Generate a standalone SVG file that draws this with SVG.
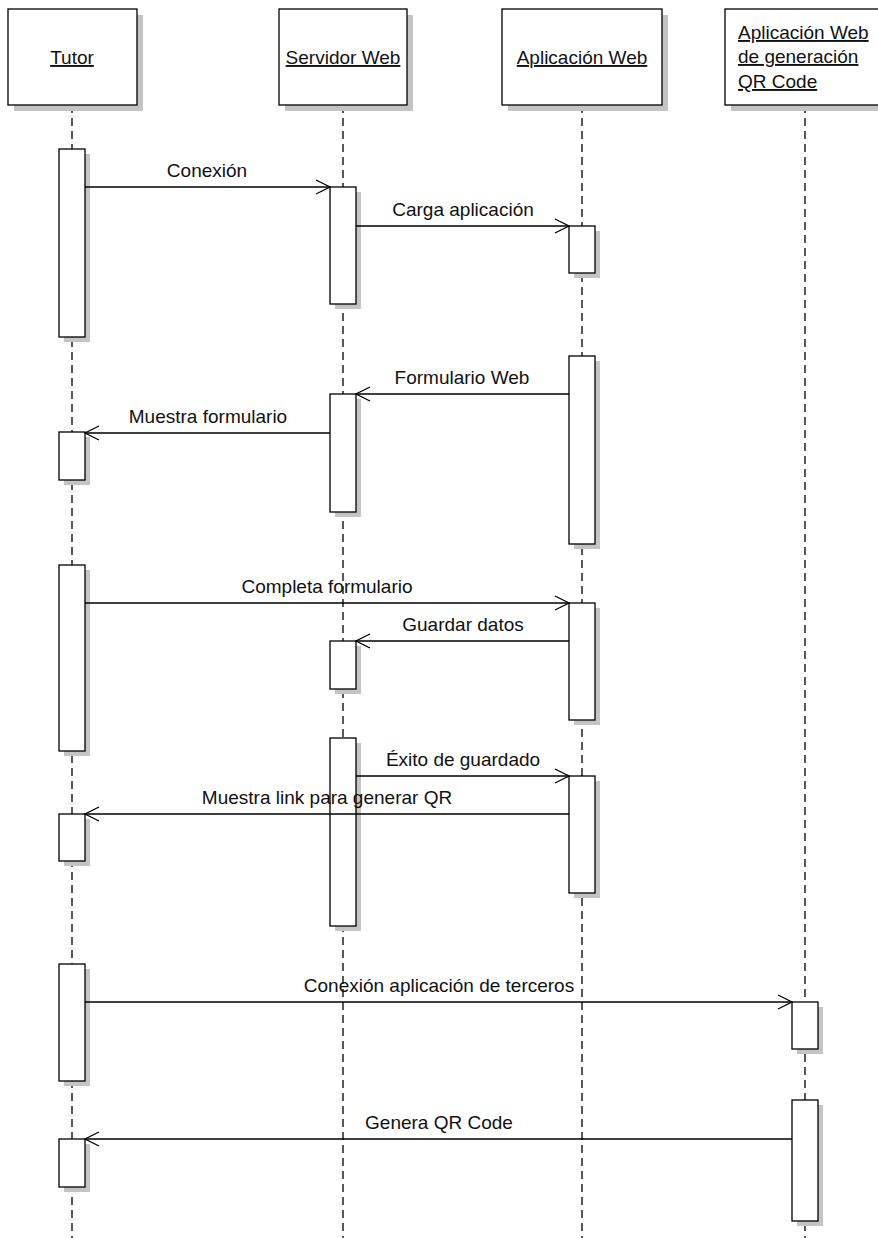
<svg xmlns="http://www.w3.org/2000/svg" width="878" height="1238" viewBox="0 0 878 1238">
  <style>
    .head { fill: #ffffff; stroke: #000000; stroke-width: 1.3; }
    .shadow { fill: #c4c4c4; stroke: none; }
    .act { fill: #ffffff; stroke: #000000; stroke-width: 1.3; }
    .life { stroke: #000000; stroke-width: 1.3; stroke-dasharray: 8 5; fill: none; }
    .msg { stroke: #000000; stroke-width: 1.3; fill: none; marker-end: url(#open); }
    text { font-family: "Liberation Sans", Arial, sans-serif; font-size: 19px; fill: #111111; }
    .title { text-decoration: underline; }
    .lbl { text-anchor: middle; }
  </style>
  <defs>
    <marker id="open" markerUnits="userSpaceOnUse" markerWidth="20" markerHeight="20" viewBox="-16 -10 20 20" refX="0" refY="0" orient="auto">
      <path d="M-14,-7 L0,0 L-14,7" fill="none" stroke="#000000" stroke-width="1.3"/>
    </marker>
  </defs>
  <rect width="878" height="1238" fill="#ffffff"/>

  <!-- lifelines -->
  <g id="lifelines">
    <line class="life" x1="72" y1="105" x2="72" y2="1238"/>
    <line class="life" x1="343" y1="105" x2="343" y2="1238"/>
    <line class="life" x1="582" y1="105" x2="582" y2="1238"/>
    <line class="life" x1="805" y1="105" x2="805" y2="1238"/>
  </g>

  <!-- participants -->
  <g id="tutor">
    <rect class="shadow" x="14" y="15" width="129" height="96"/>
    <rect class="head" x="8" y="9" width="129" height="96"/>
    <text class="title lbl" x="72" y="64">Tutor</text>
  </g>
  <g id="servidor">
    <rect class="shadow" x="285" y="15" width="128" height="96"/>
    <rect class="head" x="279" y="9" width="128" height="96"/>
    <text class="title lbl" x="343" y="64">Servidor Web</text>
  </g>
  <g id="aplicacion">
    <rect class="shadow" x="508" y="15" width="160" height="96"/>
    <rect class="head" x="502" y="9" width="160" height="96"/>
    <text class="title lbl" x="582" y="64">Aplicación Web</text>
  </g>
  <g id="qr-app">
    <rect class="shadow" x="731" y="15" width="160" height="96"/>
    <rect class="head" x="725" y="9" width="160" height="96"/>
    <text class="title" x="738" y="39">Aplicación Web</text>
    <text class="title" x="738" y="63">de generación</text>
    <text class="title" x="738" y="88">QR Code</text>
  </g>

  <!-- activation bars -->
  <g id="activations">
    <g id="tutor-act">
      <rect class="shadow" x="64" y="154" width="26" height="188"/>
      <rect class="act" x="59" y="149" width="26" height="188"/>
      <rect class="shadow" x="64" y="437" width="26" height="48"/>
      <rect class="act" x="59" y="432" width="26" height="48"/>
      <rect class="shadow" x="64" y="570" width="26" height="186"/>
      <rect class="act" x="59" y="565" width="26" height="186"/>
      <rect class="shadow" x="64" y="819" width="26" height="47"/>
      <rect class="act" x="59" y="814" width="26" height="47"/>
      <rect class="shadow" x="64" y="969" width="26" height="117"/>
      <rect class="act" x="59" y="964" width="26" height="117"/>
      <rect class="shadow" x="64" y="1144" width="26" height="48"/>
      <rect class="act" x="59" y="1139" width="26" height="48"/>
    </g>
    <g id="servidor-act">
      <rect class="shadow" x="335" y="192" width="26" height="117"/>
      <rect class="act" x="330" y="187" width="26" height="117"/>
      <rect class="shadow" x="335" y="399" width="26" height="118"/>
      <rect class="act" x="330" y="394" width="26" height="118"/>
      <rect class="shadow" x="335" y="646" width="26" height="48"/>
      <rect class="act" x="330" y="641" width="26" height="48"/>
      <rect class="shadow" x="335" y="743" width="26" height="188"/>
      <rect class="act" x="330" y="738" width="26" height="188"/>
    </g>
    <g id="aplicacion-act">
      <rect class="shadow" x="574" y="231" width="26" height="47"/>
      <rect class="act" x="569" y="226" width="26" height="47"/>
      <rect class="shadow" x="574" y="361" width="26" height="188"/>
      <rect class="act" x="569" y="356" width="26" height="188"/>
      <rect class="shadow" x="574" y="608" width="26" height="117"/>
      <rect class="act" x="569" y="603" width="26" height="117"/>
      <rect class="shadow" x="574" y="781" width="26" height="117"/>
      <rect class="act" x="569" y="776" width="26" height="117"/>
    </g>
    <g id="qr-act">
      <rect class="shadow" x="797" y="1007" width="26" height="47"/>
      <rect class="act" x="792" y="1002" width="26" height="47"/>
      <rect class="shadow" x="797" y="1105" width="26" height="121"/>
      <rect class="act" x="792" y="1100" width="26" height="121"/>
    </g>
  </g>

  <!-- messages -->
  <g id="connectors">
    <line class="msg" x1="85" y1="187" x2="330" y2="187"/>
    <text class="lbl" x="207" y="177">Conexión</text>

    <line class="msg" x1="356" y1="226" x2="569" y2="226"/>
    <text class="lbl" x="463" y="216">Carga aplicación</text>

    <line class="msg" x1="569" y1="394" x2="356" y2="394"/>
    <text class="lbl" x="462" y="384">Formulario Web</text>

    <line class="msg" x1="330" y1="433" x2="85" y2="433"/>
    <text class="lbl" x="208" y="423">Muestra formulario</text>

    <line class="msg" x1="85" y1="603" x2="569" y2="603"/>
    <text class="lbl" x="327" y="593">Completa formulario</text>

    <line class="msg" x1="569" y1="641" x2="356" y2="641"/>
    <text class="lbl" x="463" y="631">Guardar datos</text>

    <line class="msg" x1="356" y1="776" x2="569" y2="776"/>
    <text class="lbl" x="463" y="766">Éxito de guardado</text>

    <line class="msg" x1="569" y1="814" x2="85" y2="814"/>
    <text class="lbl" x="327" y="804">Muestra link para generar QR</text>

    <line class="msg" x1="85" y1="1002" x2="792" y2="1002"/>
    <text class="lbl" x="439" y="992">Conexión aplicación de terceros</text>

    <line class="msg" x1="792" y1="1139" x2="85" y2="1139"/>
    <text class="lbl" x="439" y="1129">Genera QR Code</text>
  </g>
</svg>
